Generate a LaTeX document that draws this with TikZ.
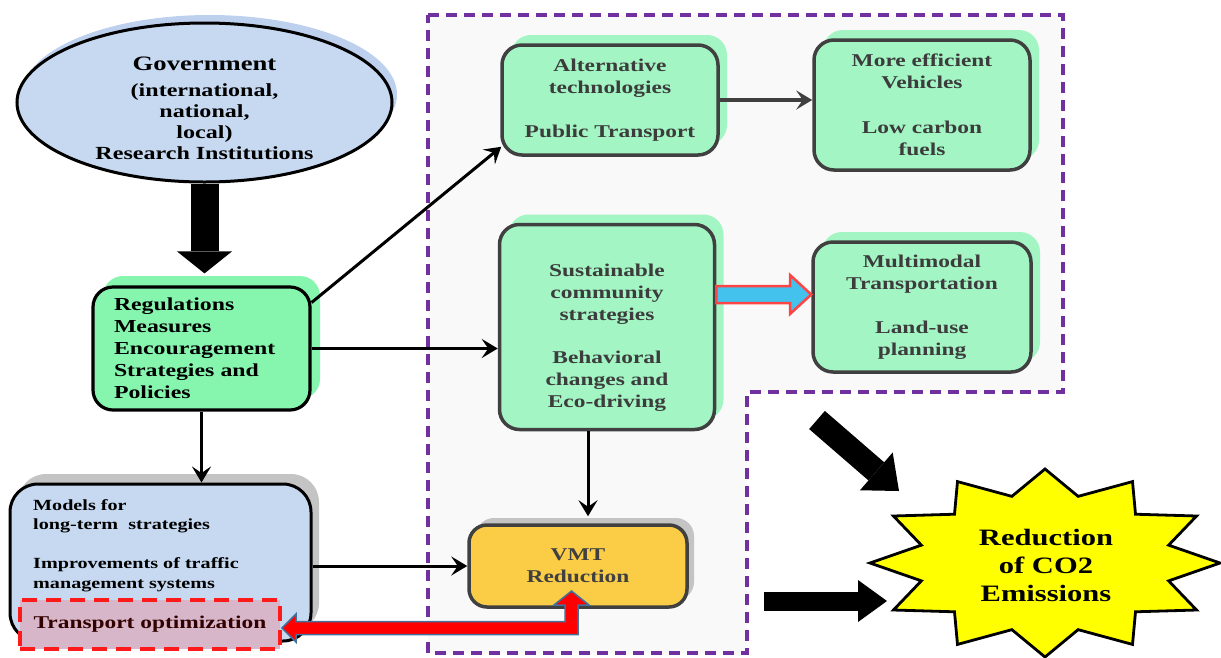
\documentclass[tikz,border=0pt]{standalone}
\usepackage{fontspec}
\newfontfamily\wfont{Liberation Serif}[FakeStretch=1.3]
\usetikzlibrary{arrows.meta,shadows,calc,shapes.geometric}

\definecolor{govblue}{HTML}{C6D9F1}
\definecolor{govshadow}{HTML}{BDD1EE}
\definecolor{regsgreen}{HTML}{86F5AE}
\definecolor{mint}{HTML}{A3F5C4}
\definecolor{boxgray}{HTML}{404040}
\definecolor{vmtyellow}{HTML}{FBCD46}
\definecolor{shadowgray}{HTML}{C4C4C4}
\definecolor{toptfill}{HTML}{D6B6C8}
\definecolor{toptred}{HTML}{FF1A1A}
\definecolor{purpleline}{HTML}{7030A0}
\definecolor{regionfill}{HTML}{F9F9F9}
\definecolor{arrowblue}{HTML}{44C2EE}
\definecolor{arrowred}{HTML}{FF4444}
\definecolor{steel}{HTML}{41719C}
\definecolor{textgray}{HTML}{3C3C3C}
\definecolor{burstyellow}{HTML}{FFFF00}

\begin{document}
\begin{tikzpicture}[x=1pt,y=-1pt,
  govnode/.style={ellipse, draw=black, line width=3pt, fill=govblue,
    minimum width=375pt, minimum height=159pt, inner sep=0pt,
    general shadow={fill=govshadow, shadow xshift=5pt, shadow yshift=8pt}},
  blackbox/.style={rounded corners=20pt, draw=black, line width=3.2pt},
  greenbox/.style={rounded corners=20pt, draw=boxgray, line width=3.5pt, fill=mint,
    inner sep=0pt, align=center, text=textgray,
    font=\wfont\bfseries\fontsize{18}{22}\selectfont,
    general shadow={fill=mint, shadow xshift=9pt, shadow yshift=10pt}},
  thinarrow/.style={line width=3pt, -{Stealth[length=16pt,width=19pt,inset=6.5pt]}},
  bigarrow/.style n args={3}{line width=#1pt,
    -{Triangle[length=#2pt,width=#3pt,line width=0pt]}},
]
\useasboundingbox (0,0) rectangle (1221,657);

% dashed region holding the measures
\draw[purpleline, line width=3.4pt, dash pattern=on 11pt off 7pt, fill=regionfill]
  (428,15) -- (1063,15) -- (1063,392) -- (747,392) -- (747,653) -- (428,653) -- cycle;

% left column
\node[govnode] (gov) at (204.5,102.5) {};
\node[align=center, inner sep=0pt,
  font=\wfont\bfseries\fontsize{18.5}{21}\selectfont] (govtxt) at (204.5,108)
  {{\fontsize{20.5}{21}\selectfont Government}\\[5pt]
   (international,\\national,\\local)\\Research Institutions};

\node[blackbox, fill=regsgreen, minimum width=217pt, minimum height=123pt,
  text width=175pt, inner xsep=21pt, inner ysep=0pt, align=left,
  font=\wfont\bfseries\fontsize{18.3}{22}\selectfont,
  general shadow={fill=regsgreen, shadow xshift=10pt, shadow yshift=11pt}]
  (regs) at (201.5,348.5)
  {Regulations\\Measures\\Encouragement\\Strategies and\\Policies};

\node[blackbox, rounded corners=28pt, line width=3pt, fill=govblue,
  minimum width=301pt, minimum height=157pt, inner sep=0pt,
  general shadow={fill=shadowgray, shadow xshift=8pt, shadow yshift=10pt}]
  (models) at (160.5,562.5) {};
\node[anchor=north west, inner sep=0pt, align=left,
  font=\wfont\bfseries\fontsize{15.5}{19.5}\selectfont]
  (modelstxt) at (33,499)
  {Models for\\long-term~ strategies\\[19.5pt]Improvements of traffic\\management systems};
\node[draw=toptred, line width=3.8pt, dash pattern=on 15pt off 9pt, fill=toptfill,
  minimum width=260pt, minimum height=49pt, inner sep=0pt, text=black!80!red,
  font=\wfont\bfseries\fontsize{18}{22}\selectfont]
  (topt) at (150,624.5) {Transport optimization};

% measures
\node[greenbox, minimum width=216pt, minimum height=110pt] (alt) at (610,100)
  {Alternative\\technologies\\[22pt]Public Transport};
\node[greenbox, minimum width=216pt, minimum height=130pt] (more) at (922,105)
  {More efficient\\Vehicles\\[23pt]Low carbon\\fuels};
\node[greenbox, minimum width=215pt, minimum height=205pt] (sus) at (607,327) {};
\node[align=center, inner sep=0pt, text=textgray,
  font=\wfont\bfseries\fontsize{18}{22}\selectfont] (sustxt) at (607,338)
  {Sustainable\\community\\strategies\\[21pt]Behavioral\\changes and\\Eco-driving};
\node[greenbox, minimum width=218pt, minimum height=130pt] (multi) at (922,307)
  {Multimodal\\Transportation\\[22pt]Land-use\\planning};
\node[rounded corners=18pt, draw=boxgray, line width=3.5pt, fill=vmtyellow,
  minimum width=218pt, minimum height=82pt, inner sep=0pt, align=center, text=boxgray,
  font=\wfont\bfseries\fontsize{18}{22}\selectfont,
  general shadow={fill=shadowgray, shadow xshift=7pt, shadow yshift=7pt}]
  (vmt) at (578,566) {VMT\\Reduction};

% outcome
\draw[fill=burstyellow, line width=2.8pt, line join=miter, shift={(1045,563)}]
  (0:175 and 94) \foreach \k in {0,...,11} {
    -- ({\k*30+15}:128 and 69) -- ({\k*30+30}:175 and 94) } -- cycle;
\node[align=center, inner sep=0pt,
  font=\wfont\bfseries\fontsize{23.5}{28}\selectfont] (co2) at (1046,565)
  {Reduction\\of CO2\\Emissions};

% connectors
\draw[bigarrow={28}{22}{55}, shorten >=12pt] (gov.south) -- (gov.south |- regs.north);
\draw[thinarrow] ($(regs.east)+(0,-46)$) -- ($(alt.south west)+(1,-10)$);
\draw[thinarrow] (regs.east) -- (regs.east -| sus.west);
\draw[thinarrow] (regs.south) -- (regs.south |- models.north);
\draw[thinarrow, draw=boxgray, line width=3.6pt] (alt.east) -- (alt.east -| more.west);
\draw[thinarrow, shorten >=7pt] ([xshift=-19pt]sus.south) -- ([xshift=-19pt]sus.south |- vmt.north);
\draw[thinarrow] (models.east |- vmt.west) -- (vmt.west);

% block arrow between the community strategies and multimodal planning
\draw[fill=arrowblue, draw=arrowred, line width=2.5pt, line join=miter]
  (sus.east |- 0,286) -- (790,286) -- (790,275) -- (multi.west |- 0,294.5)
  -- (790,314) -- (790,303) -- (sus.east |- 0,303) -- cycle;

% feedback arrow between VMT reduction and transport optimization
\draw[fill=red, draw=steel, line width=1.5pt, line join=miter]
  ($(topt.east)+(0,3.5)$) -- (296,614) -- (296,621.5) -- (565,621.5) -- (565,605)
  -- (554,605) -- (571.5,591) -- (589,605) -- (578,605) -- (578,634.5)
  -- (296,634.5) -- (296,642) -- cycle;

% arrows into the emissions burst
\coordinate (d1) at (817,420);
\coordinate (d2) at (899,491);
\draw[bigarrow={24}{30}{50}] (d1) -- (d2);
\coordinate (h1) at (764,601);
\coordinate (h2) at (887,601);
\draw[bigarrow={19}{29}{42}] (h1) -- (h2);
\end{tikzpicture}
\end{document}
